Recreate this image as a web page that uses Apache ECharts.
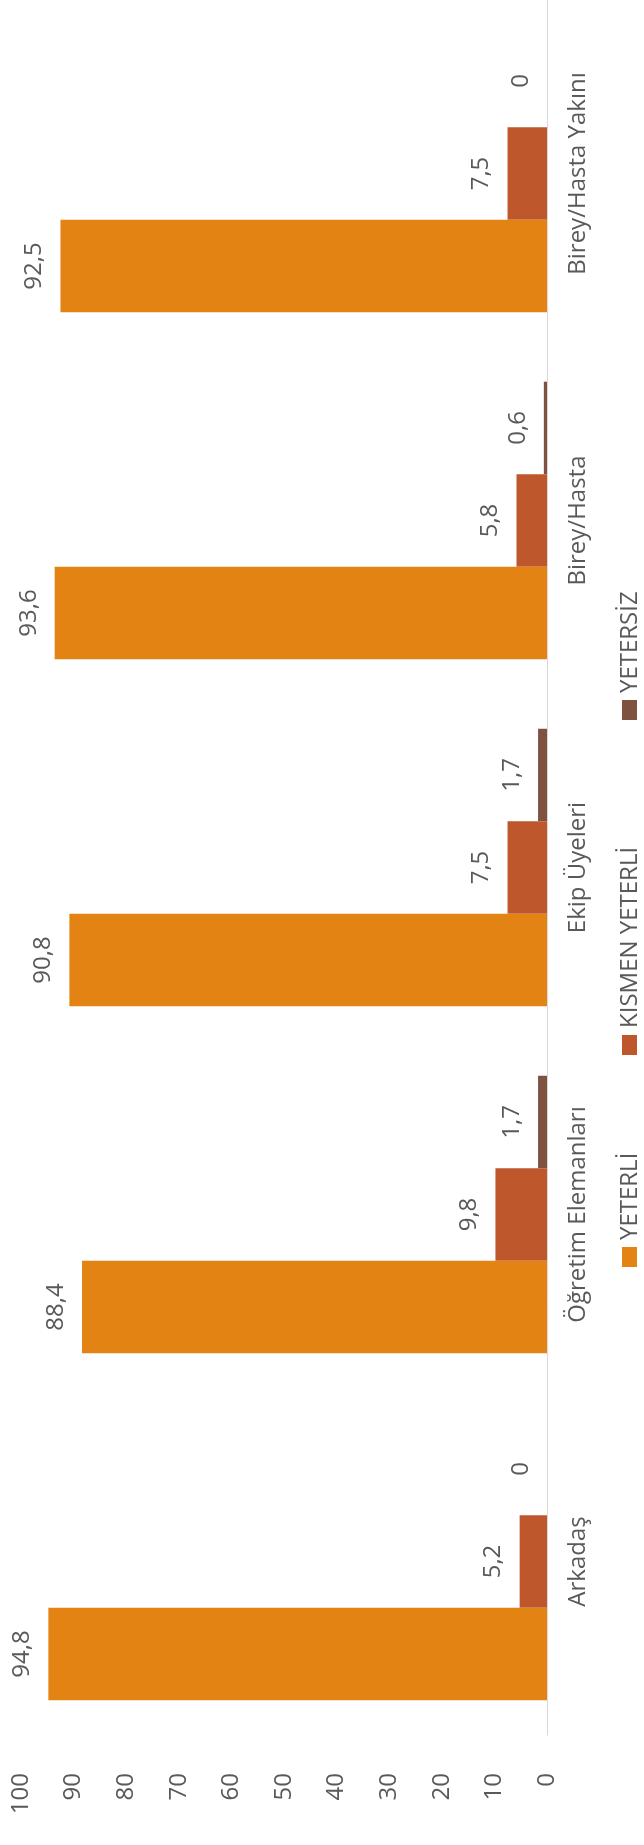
<!DOCTYPE html>
<html>
<head>
<meta charset="utf-8">
<script src="https://cdn.jsdelivr.net/npm/echarts@6/dist/echarts.min.js"></script>
<style>
html,body{margin:0;padding:0;background:#fff;}
#chart{width:644px;height:1845px;}
</style>
</head>
<body>
<div id="chart"></div>
<script>
const categories = ['Arkadaş', 'Öğretim Elemanları', 'Ekip Üyeleri', 'Birey/Hasta', 'Birey/Hasta Yakını'];
const seriesNames = ['YETERLİ', 'KISMEN YETERLİ', 'YETERSİZ'];
const yeterli = [94.8, 88.4, 90.8, 93.6, 92.5];
const kismenYeterli = [5.2, 9.8, 7.5, 5.8, 7.5];
const yetersiz = [0, 1.7, 1.7, 0.6, 0];
const valueMin = 0, valueMax = 100, valueStep = 10;

const colors = ['#E38314', '#BE572B', '#7E5140'];
const textColor = '#595959';
const FONT = '"Open Sans", sans-serif';
const FS = 24;

const chart = echarts.init(document.getElementById('chart'), null, {renderer: 'canvas'});

const fmt = p => String(p.value).replace('.', ',');

function makeSeries(name, data, color) {
  return {
    name: name,
    type: 'bar',
    data: data,
    barGap: '0%',
    barCategoryGap: '20%',
    itemStyle: {color: color},
    label: {
      show: true,
      position: 'left',
      distance: 14,
      rotate: 90,
      align: 'center',
      verticalAlign: 'bottom',
      color: textColor,
      fontFamily: FONT,
      fontSize: FS,
      formatter: fmt
    }
  };
}

// legend items, drawn rotated like the reference
const legendStarts = [1267, 1055, 720];
const legendGraphics = seriesNames.map((n, i) => ({
  type: 'group',
  x: 630,
  y: legendStarts[i],
  rotation: Math.PI / 2,
  children: [
    {type: 'rect', shape: {x: 0, y: -8, width: 20, height: 15}, style: {fill: colors[i]}},
    {type: 'text', x: 27, y: 0, style: {text: n, fill: textColor, font: FS + 'px ' + FONT, textVerticalAlign: 'middle', verticalAlign: 'middle'}}
  ]
}));

chart.setOption({
  backgroundColor: '#ffffff',
  animation: false,
  grid: {left: 21, right: 97, top: 0, bottom: 110, containLabel: false, outerBoundsMode: 'none'},
  xAxis: {
    type: 'value',
    min: valueMin,
    max: valueMax,
    interval: valueStep,
    inverse: true,
    position: 'bottom',
    axisLine: {show: false},
    axisTick: {show: false},
    splitLine: {show: false},
    axisLabel: {rotate: 90, margin: 38, align: 'right', verticalAlign: 'middle', color: textColor, fontFamily: FONT, fontSize: FS}
  },
  yAxis: {
    type: 'category',
    data: categories,
    position: 'right',
    axisLine: {show: true, lineStyle: {color: '#D9D9D9', width: 1}},
    axisTick: {show: false},
    splitLine: {show: false},
    axisLabel: {rotate: 90, margin: 19, align: 'center', verticalAlign: 'top', color: textColor, fontFamily: FONT, fontSize: FS}
  },
  graphic: legendGraphics,
  // series listed so that YETERLİ sits lowest in each group, as in the reference
  series: [
    makeSeries(seriesNames[2], yetersiz, colors[2]),
    makeSeries(seriesNames[1], kismenYeterli, colors[1]),
    makeSeries(seriesNames[0], yeterli, colors[0])
  ]
});
</script>
</body>
</html>
